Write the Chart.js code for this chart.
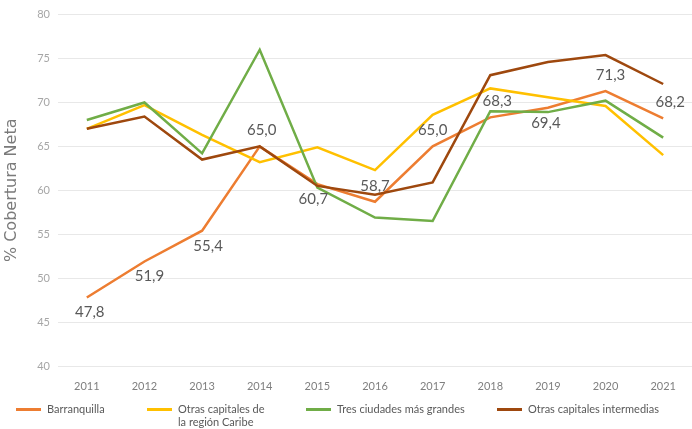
<!DOCTYPE html>
<html lang="es">
<head>
<meta charset="UTF-8">
<title>% Cobertura Neta</title>
<script src="https://cdn.jsdelivr.net/npm/chart.js"></script>
<style>
    html, body { margin: 0; padding: 0; background: #fff; }
    #wrap { position: relative; width: 692px; height: 429px; }
    .leg { position: absolute; top: 402px; font-family: Lato, "Open Sans", sans-serif; font-size: 11px; color: #595959; line-height: 13px; }
    .leg i { position: absolute; left: 0; top: 6px; width: 25px; height: 2.5px; }
    .leg span { display: block; padding-left: 31px; }
</style>
</head>
<body>
<div id="wrap">
    <canvas id="chart"></canvas>
    <div class="leg" style="left:16px"><i style="background:#ED7D31"></i><span>Barranquilla</span></div>
    <div class="leg" style="left:147px"><i style="background:#FFC000"></i><span>Otras capitales de<br>la región Caribe</span></div>
    <div class="leg" style="left:306px"><i style="background:#70AD47"></i><span>Tres ciudades más grandes</span></div>
    <div class="leg" style="left:497px"><i style="background:#9E480E"></i><span>Otras capitales intermedias</span></div>
</div>
<script>
    const years = ['2011', '2012', '2013', '2014', '2015', '2016', '2017', '2018', '2019', '2020', '2021'];
    const barranquilla = [47.8, 51.9, 55.4, 65.0, 60.7, 58.7, 65.0, 68.3, 69.4, 71.3, 68.2];
    const caribe = [67.0, 69.7, 66.3, 63.2, 64.9, 62.3, 68.6, 71.6, 70.6, 69.6, 64.0];
    const tresCiudades = [68.0, 70.0, 64.2, 76.0, 60.3, 56.9, 56.5, 69.0, 68.9, 70.2, 66.0];
    const intermedias = [67.0, 68.4, 63.5, 65.0, 60.5, 59.5, 60.9, 73.1, 74.6, 75.4, 72.1];
    // where each Barranquilla label sits: a = above, b = below
    const labelSide = ['b', 'b', 'b', 'a', 'b', 'a', 'a', 'a', 'b', 'a', 'a'];
    const labelShift = [3, 5, 6, 2, -4, 0, 0, 7, -2, 5, 7];

    const valueLabels = {
        id: 'valueLabels',
        afterDatasetsDraw(chart) {
            const ctx = chart.ctx;
            const meta = chart.getDatasetMeta(0);
            ctx.save();
            ctx.font = '15px Lato, "Open Sans", sans-serif';
            ctx.fillStyle = '#595959';
            ctx.textAlign = 'center';
            ctx.textBaseline = 'middle';
            meta.data.forEach((pt, i) => {
                const dy = labelSide[i] === 'a' ? -16 : 15;
                ctx.fillText(barranquilla[i].toFixed(1).replace('.', ','), pt.x + labelShift[i], pt.y + dy);
            });
            ctx.restore();
        }
    };

    function line(label, data, color, order) {
        return {
            label: label,
            data: data,
            borderColor: color,
            backgroundColor: color,
            borderWidth: 2.5,
            pointRadius: 0,
            tension: 0,
            order: order
        };
    }

    new Chart(document.getElementById('chart'), {
        type: 'line',
        data: {
            labels: years,
            datasets: [
                line('Barranquilla', barranquilla, '#ED7D31', 3),
                line('Otras capitales de la región Caribe', caribe, '#FFC000', 2),
                line('Tres ciudades más grandes', tresCiudades, '#70AD47', 1),
                line('Otras capitales intermedias', intermedias, '#9E480E', 0)
            ]
        },
        options: {
            responsive: true,
            maintainAspectRatio: false,
            animation: false,
            layout: { padding: { top: 6, right: 0, bottom: 33, left: 0 } },
            plugins: { legend: { display: false }, tooltip: { enabled: false } },
            scales: {
                x: {
                    offset: true,
                    grid: { display: false },
                    border: { display: false },
                    ticks: { color: '#7f7f7f', font: { family: 'Lato', size: 11 }, padding: 6 },
                    afterFit(scale) { scale.height = 30; }
                },
                y: {
                    min: 40,
                    max: 80,
                    ticks: { stepSize: 5, color: '#a6a6a6', font: { family: 'Lato', size: 11 }, padding: 8 },
                    grid: { color: '#e8e8e8', lineWidth: 1, drawTicks: false },
                    border: { display: false },
                    title: { display: true, text: '% Cobertura Neta', color: '#7a7a7a', font: { family: '"DejaVu Sans"', size: 16 }, padding: { top: 2, bottom: 0 } },
                    afterFit(scale) { scale.width = 58; }
                }
            }
        },
        plugins: [valueLabels]
    });
</script>
</body>
</html>
